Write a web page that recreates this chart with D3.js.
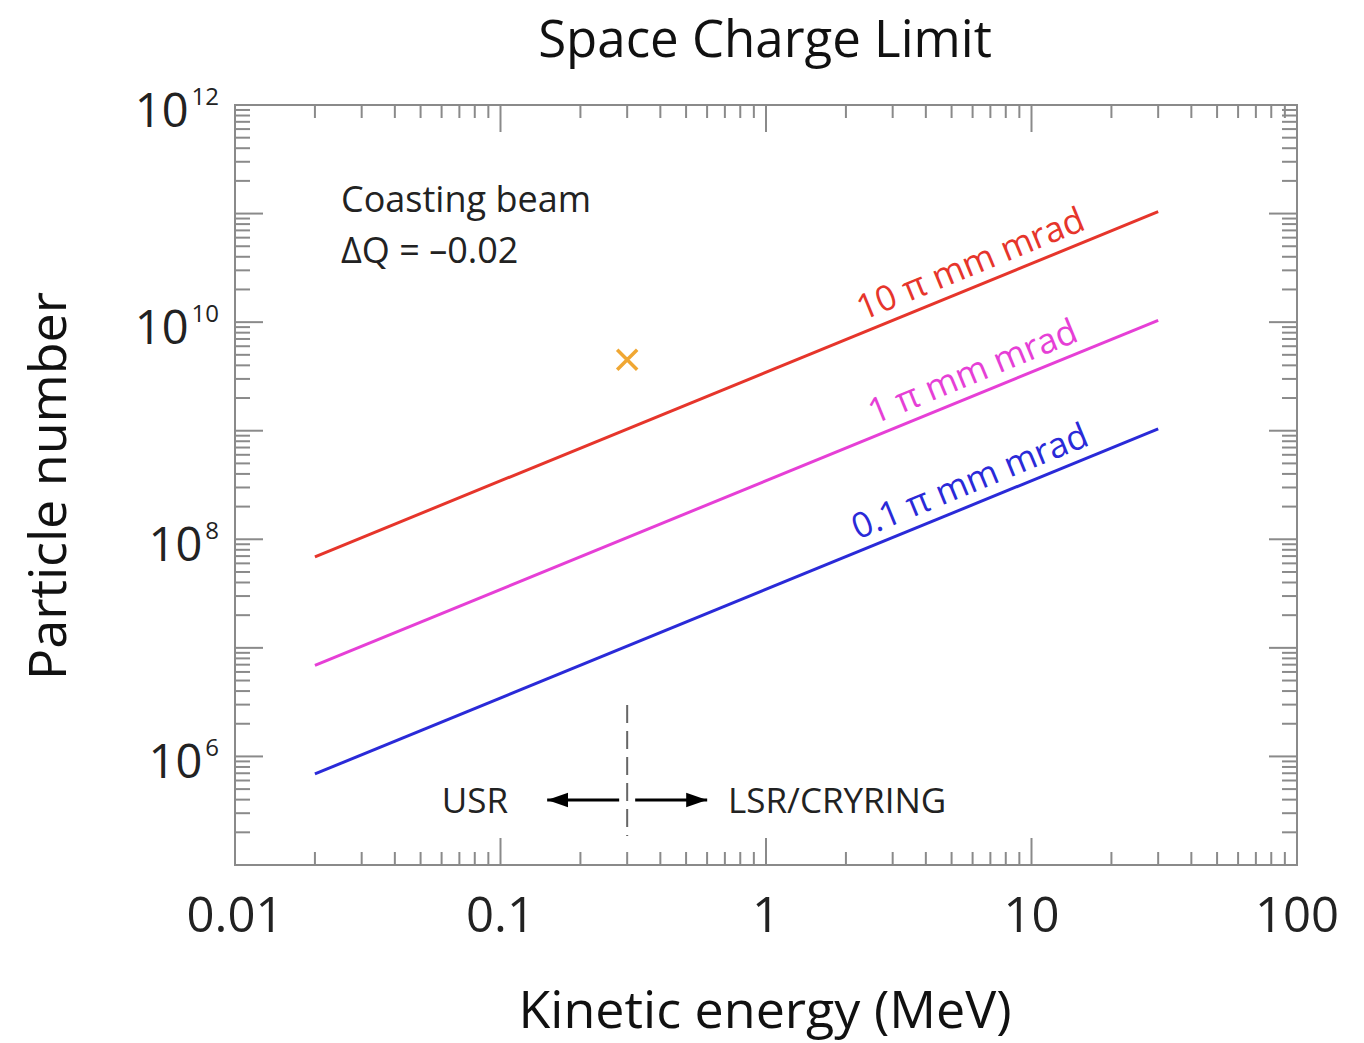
<!DOCTYPE html>
<html>
<head>
<meta charset="utf-8">
<script src="https://cdn.jsdelivr.net/npm/d3@7"></script>
<style>
  body { margin: 0; background: #fff; }
  text { font-family: "Open Sans", sans-serif; }
</style>
</head>
<body>
<svg id="chart" width="1364" height="1043"></svg>
<script>
// kinetic energy (MeV) at the two ends of each limit line
const energy = [0.02, 30];
// particle number limits per emittance
const limit10 = [6.9e7, 1.04e11];
const limit1 = [6.9e6, 1.04e10];
const limit01 = [6.9e5, 1.04e9];
const seriesNames = ['10 \u03c0 mm mrad', '1 \u03c0 mm mrad', '0.1 \u03c0 mm mrad'];
const seriesColors = ['#e6352b', '#e63fd6', '#2a2ad8'];
const labelEnergy = [2.4, 2.65, 2.3];
// measured point
const pointE = [0.3];
const pointN = [4.5e9];
const boundaryE = 0.3;
const xTickVals = [0.01, 0.1, 1, 10, 100];
const xTickText = ['0.01', '0.1', '1', '10', '100'];
const yTickExp = [6, 8, 10, 12];

const svg = d3.select('#chart');
const L = 235, R = 1297, T = 105, B = 865;

const x = d3.scaleLog().domain([0.01, 100]).range([L, R]);
const y = d3.scaleLog().domain([1e5, 1e12]).range([B, T]);

const axisColor = '#8a8a8a';

// minor / major ticks on all four sides
const g = svg.append('g');
for (let e = -2; e < 2; e++) {
  for (let m = 1; m < 10; m++) {
    const v = m * Math.pow(10, e);
    if (v <= 0.01) continue;
    const len = m === 1 ? 27 : 13;
    const px = x(v);
    g.append('line').attr('x1', px).attr('x2', px).attr('y1', B).attr('y2', B - len)
      .attr('stroke', axisColor).attr('stroke-width', 2);
    g.append('line').attr('x1', px).attr('x2', px).attr('y1', T).attr('y2', T + len)
      .attr('stroke', axisColor).attr('stroke-width', 2);
  }
}
for (let e = 5; e < 12; e++) {
  for (let m = 1; m < 10; m++) {
    const v = m * Math.pow(10, e);
    if (v <= 1e5) continue;
    const len = m === 1 ? 28 : 15;
    const py = y(v);
    g.append('line').attr('x1', L).attr('x2', L + len).attr('y1', py).attr('y2', py)
      .attr('stroke', axisColor).attr('stroke-width', 2);
    g.append('line').attr('x1', R).attr('x2', R - len).attr('y1', py).attr('y2', py)
      .attr('stroke', axisColor).attr('stroke-width', 2);
  }
}

svg.append('rect')
  .attr('x', L).attr('y', T).attr('width', R - L).attr('height', B - T)
  .attr('fill', 'none').attr('stroke', axisColor).attr('stroke-width', 2);

// x tick labels
svg.append('g').selectAll('text').data(xTickVals).join('text')
  .attr('x', d => x(d)).attr('y', 932)
  .attr('text-anchor', 'middle').attr('font-size', 49).attr('fill', '#222')
  .text((d, i) => xTickText[i]);

// y tick labels 10^n
const yl = svg.append('g').selectAll('text').data(yTickExp).join('text')
  .attr('x', 219).attr('y', d => y(Math.pow(10, d)) + 22)
  .attr('text-anchor', 'end').attr('font-size', 47).attr('fill', '#222');
yl.append('tspan').text('10');
yl.append('tspan').attr('dx', 3).attr('dy', -22).attr('font-size', 24).text(d => d);

// titles
svg.append('text').attr('x', 765).attr('y', 57).attr('text-anchor', 'middle')
  .attr('font-size', 51).attr('fill', '#111').text('Space Charge Limit');
svg.append('text').attr('x', 765).attr('y', 1028).attr('text-anchor', 'middle')
  .attr('font-size', 52).attr('fill', '#111').text('Kinetic energy (MeV)');
svg.append('text').attr('transform', 'translate(66,486) rotate(-90)')
  .attr('text-anchor', 'middle').attr('font-size', 52).attr('fill', '#111').text('Particle number');

// limit lines
const line = d3.line().x(d => x(d[0])).y(d => y(d[1]));
const series = [limit10, limit1, limit01];
series.forEach((vals, i) => {
  const pts = energy.map((e, j) => [e, vals[j]]);
  svg.append('path').datum(pts).attr('d', line)
    .attr('fill', 'none').attr('stroke', seriesColors[i]).attr('stroke-width', 3);
  // label along the line
  const k = Math.log(vals[1] / vals[0]) / Math.log(energy[1] / energy[0]);
  const le = labelEnergy[i];
  const ln = vals[0] * Math.pow(le / energy[0], k);
  const ang = Math.atan2(y(vals[1]) - y(vals[0]), x(energy[1]) - x(energy[0])) * 180 / Math.PI;
  svg.append('text')
    .attr('transform', `translate(${x(le)},${y(ln)}) rotate(${ang}) translate(0,-11)`)
    .attr('font-size', 35).attr('fill', seriesColors[i]).text(seriesNames[i]);
});

// measured point
svg.append('g').selectAll('path').data(pointE).join('path')
  .attr('transform', (d, i) => `translate(${x(d)},${y(pointN[i])})`)
  .attr('d', 'M-10,-10L10,10M-10,10L10,-10')
  .attr('stroke', '#f0a733').attr('stroke-width', 3.5).attr('fill', 'none');

// annotation text
svg.append('text').attr('x', 341).attr('y', 212).attr('font-size', 36).attr('fill', '#222').text('Coasting beam');
svg.append('text').attr('x', 341).attr('y', 263).attr('font-size', 36).attr('fill', '#222').text('\u0394Q = \u20130.02');

// boundary between rings
const bx = x(boundaryE);
svg.append('line').attr('x1', bx).attr('x2', bx).attr('y1', 705).attr('y2', 836)
  .attr('stroke', '#666').attr('stroke-width', 2).attr('stroke-dasharray', '18,8');
svg.append('defs').append('marker').attr('id', 'ah')
  .attr('viewBox', '0 0 10 10').attr('refX', 10).attr('refY', 5)
  .attr('markerWidth', 7).attr('markerHeight', 7).attr('markerUnits', 'strokeWidth')
  .attr('orient', 'auto')
  .append('path').attr('d', 'M0,1.5L10,5L0,8.5Z').attr('fill', '#000');
svg.append('line').attr('x1', bx - 8).attr('x2', bx - 80).attr('y1', 800).attr('y2', 800)
  .attr('stroke', '#000').attr('stroke-width', 3).attr('marker-end', 'url(#ah)');
svg.append('line').attr('x1', bx + 8).attr('x2', bx + 80).attr('y1', 800).attr('y2', 800)
  .attr('stroke', '#000').attr('stroke-width', 3).attr('marker-end', 'url(#ah)');
svg.append('text').attr('x', 508).attr('y', 813).attr('text-anchor', 'end')
  .attr('font-size', 35).attr('fill', '#222').text('USR');
svg.append('text').attr('x', 728).attr('y', 813)
  .attr('font-size', 35).attr('fill', '#222').text('LSR/CRYRING');
</script>
</body>
</html>
